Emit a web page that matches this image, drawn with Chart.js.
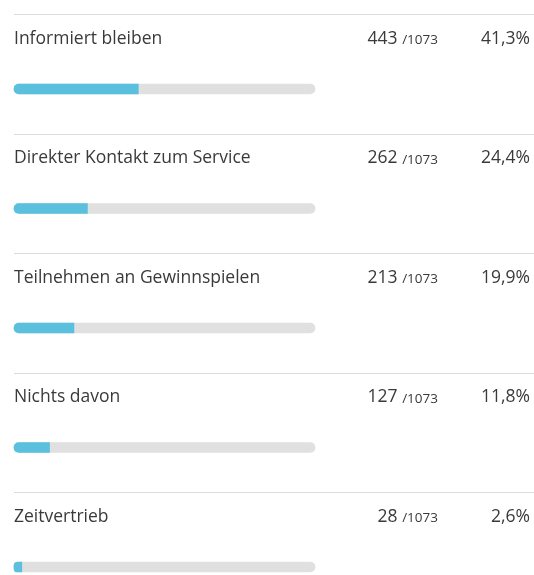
<!DOCTYPE html>
<html>
<head>
<meta charset="utf-8">
<script src="https://cdn.jsdelivr.net/npm/chart.js@4"></script>
<style>
  html, body { margin: 0; padding: 0; background: #fff; }
  canvas { display: block; }
</style>
</head>
<body>
<canvas id="answersChart" width="534" height="575"></canvas>
<script>
// Umfrage-Antworten
const answers = ['Informiert bleiben', 'Direkter Kontakt zum Service', 'Teilnehmen an Gewinnspielen', 'Nichts davon', 'Zeitvertrieb'];
const counts = [443, 262, 213, 127, 28];
const total = 1073;
const percents = [41.3, 24.4, 19.9, 11.8, 2.6];
const fullTrack = [100, 100, 100, 100, 100];

const fontFamily = "'Open Sans', 'Noto Sans', sans-serif";

// Texte + Trennlinien pro Zeile
const rowText = {
  id: 'rowText',
  afterDraw(chart) {
    const ctx = chart.ctx;
    const y = chart.scales.y;
    ctx.save();
    answers.forEach((name, i) => {
      const barY = y.getPixelForValue(i);
      // Trennlinie
      ctx.strokeStyle = '#dcdcdc';
      ctx.lineWidth = 1;
      ctx.beginPath();
      ctx.moveTo(14, Math.round(barY - 75) + 0.5);
      ctx.lineTo(534, Math.round(barY - 75) + 0.5);
      ctx.stroke();

      const textY = barY - 50;
      ctx.textBaseline = 'middle';
      ctx.fillStyle = '#3a3a3a';
      ctx.font = '17.5px ' + fontFamily;
      ctx.textAlign = 'left';
      ctx.fillText(name, 14, textY);

      // Anzahl /gesamt
      ctx.textAlign = 'right';
      ctx.font = '13.5px ' + fontFamily;
      const totalText = '/' + total;
      ctx.fillText(totalText, 438, textY + 1.5);
      const w = ctx.measureText(totalText).width;
      ctx.font = '17.5px ' + fontFamily;
      ctx.fillText(counts[i] + ' ', 438 - w, textY);

      // Prozent
      ctx.fillText(percents[i].toFixed(1).replace('.', ',') + '%', 530, textY);
    });
    ctx.restore();
  }
};

new Chart(document.getElementById('answersChart').getContext('2d'), {
  type: 'bar',
  data: {
    labels: answers,
    datasets: [{
      label: 'Anteil',
      data: percents,
      backgroundColor: '#5bc0de',
      barThickness: 10,
      grouped: false,
      clip: false,
      borderSkipped: false,
      borderRadius: { topLeft: 5, bottomLeft: 5, topRight: 0, bottomRight: 0 }
    }, {
      label: 'Gesamt',
      data: fullTrack,
      backgroundColor: '#e0e0e0',
      barThickness: 10,
      grouped: false,
      clip: false,
      borderSkipped: false,
      borderRadius: 5
    }]
  },
  options: {
    indexAxis: 'y',
    responsive: false,
    animation: false,
    layout: { padding: { top: 89, bottom: 8, left: 14, right: 219 } },
    plugins: { legend: { display: false }, tooltip: { enabled: false } },
    scales: {
      x: { min: 0, max: 100, display: false },
      y: { display: false, offset: false }
    }
  },
  plugins: [rowText]
});
</script>
</body>
</html>
